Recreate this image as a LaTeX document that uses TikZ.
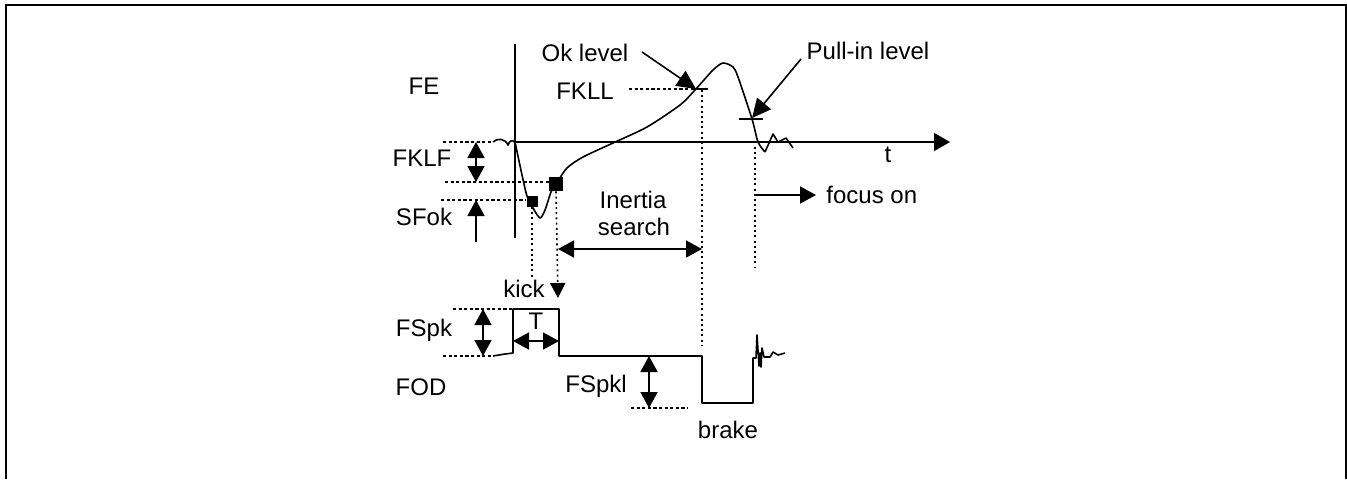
\documentclass[tikz,border=0pt]{standalone}
\usepackage{fontspec}
\setmainfont{Liberation Sans}
\usepackage{tikz}
\usetikzlibrary{arrows.meta, positioning, calc}

\begin{document}
\begin{tikzpicture}[
    x=0.5pt, y=-0.5pt,
    every node/.style={font=\fontsize{12}{13.5}\selectfont, inner sep=0pt, anchor=base},
    axis/.style={line width=0.85pt},
    signal/.style={line width=0.8pt, line join=round},
    dashline/.style={line width=0.6pt, dash pattern=on 1.6pt off 1.2pt},
    dotline/.style={line width=0.8pt, dash pattern=on 1pt off 1.6pt},
    arrow/.style={-{Triangle[length=8pt, width=8.5pt]}, line width=0.8pt},
    dblarrow/.style={{Triangle[length=8pt, width=8.5pt]}-{Triangle[length=8pt, width=8.5pt]}, line width=0.8pt},
    bigarrow/.style={-{Triangle[length=9.5pt, width=9pt]}, line width=0.8pt},
    marker/.style={rectangle, fill=black, draw=none, minimum size=#1}
]
\useasboundingbox (0,0) rectangle (1347,479);

% frame
\draw[line width=1pt] (6,479) -- (6,5) -- (1346,5) -- (1346,479);

% labels
\node (FE) at (424,94) {FE};
\node (FKLF) at (422,166) {FKLF};
\node (SFok) at (424,225) {SFok};
\node (FKLL) at (585,99) {FKLL};
\node (oklevel) at (585,61) {Ok level};
\node (pullin) at (868,59) {Pull-in level};
\node (t) at (888,162) {t};
\node[anchor=base west] (focus) at (826,203) {focus on};
\node (inertia) at (633,208) {Inertia};
\node (search) at (634,235) {search};
\node (kick) at (524,297) {kick};
\node (FSpk) at (424,336) {FSpk};
\node (T) at (536,329) {T};
\node (FOD) at (421,395) {FOD};
\node (FSpkl) at (596,392) {FSpkl};
\node (brake) at (728,438) {brake};

% key points
\coordinate (origin) at (515,142);
\coordinate (ttip) at (950,142);
\coordinate (ytop) at (515,44);
\coordinate (ybot) at (515,238);
\coordinate (okpt) at (696,89);
\coordinate (pipt) at (752,118);
\coordinate (focusstart) at (755,195);
\coordinate (focusend) at (816,195);
\node[marker=5.5pt] (sq1) at (532,201) {};
\node[marker=7pt] (sq2) at (556,184) {};

% FE axes
\draw[axis] (ytop) -- (ybot);
\draw[axis, -{Triangle[length=8pt, width=9pt]}] (origin) -- (ttip);

% FE signal
\draw[signal] (493,142) .. controls (497,138) and (505,138) .. (508,145)
    .. controls (510,140) and (512,140) .. (origin);
\draw[signal] plot[smooth, tension=0.45] coordinates {
    (515,142) (522,175) (527,196) (533,208) (540,218) (545,210) (551,192) (556,184)
    (567,168) (583,157) (613,143) (647,127) (680,105) (695,90) (713,70)
    (723,63) (733,67) (738,77) (752,119) (758,142) (765,152)};
\draw[signal] (765,152) -- (773,134) -- (778,142) -- (786,138) -- (793,148);

% levels
\draw[dashline] (443,142) -- (493,142);
\draw[dashline] (445,182) -- (sq2.west |- 0,182);
\draw[dashline] (441,200) -- (sq1.west |- 0,200);
\draw[dashline] (629,89) -- (693,89);
\draw[line width=0.8pt] (693,89) -- (708,89);
\draw[line width=0.8pt] (739,119) -- (763,119);
\draw[bigarrow] (642,52) -- (okpt);
\draw[bigarrow] (801,59) -- (pipt);

% FKLF and SFok
\draw[dblarrow] (476,142) -- (476,182);
\draw[arrow] (476,242) -- (476,200);

% dotted guides
\draw[dotline] (sq1.south) -- (532,277);
\draw[dotline, -{Triangle[length=7.5pt, width=7.5pt]}] (sq2.south) -- (558,298);
\draw[dotline] (702,90) -- (702,345);
\draw[dotline] (755,147) -- (755,268);

% inertia search and focus on
\draw[dblarrow] (558,249) -- (702,249);
\draw[arrow] (focusstart) -- (focusend);

% FOD signal
\draw[signal] (493,356) -- (505,354) -- (513,353) -- (513,309) -- (559,309) -- (559,356)
    -- (702,356) -- (702,403) -- (753,403) -- (753,358) -- (756,358) -- (757,335)
    -- (759,366) -- (760,353) -- (761,367) -- (762,348) -- (764,357) -- (770,357)
    -- (773,352) -- (778,355) -- (785,353);

% FOD levels
\draw[dashline] (453,309) -- (513,309);
\draw[dashline] (443,356) -- (493,356);
\draw[dblarrow] (483,309) -- (483,356);
\draw[dblarrow] (513,341) -- (559,341);
\draw[dashline] (631,408) -- (688,408);
\draw[dblarrow] (649,356) -- (649,408);

\end{tikzpicture}
\end{document}
